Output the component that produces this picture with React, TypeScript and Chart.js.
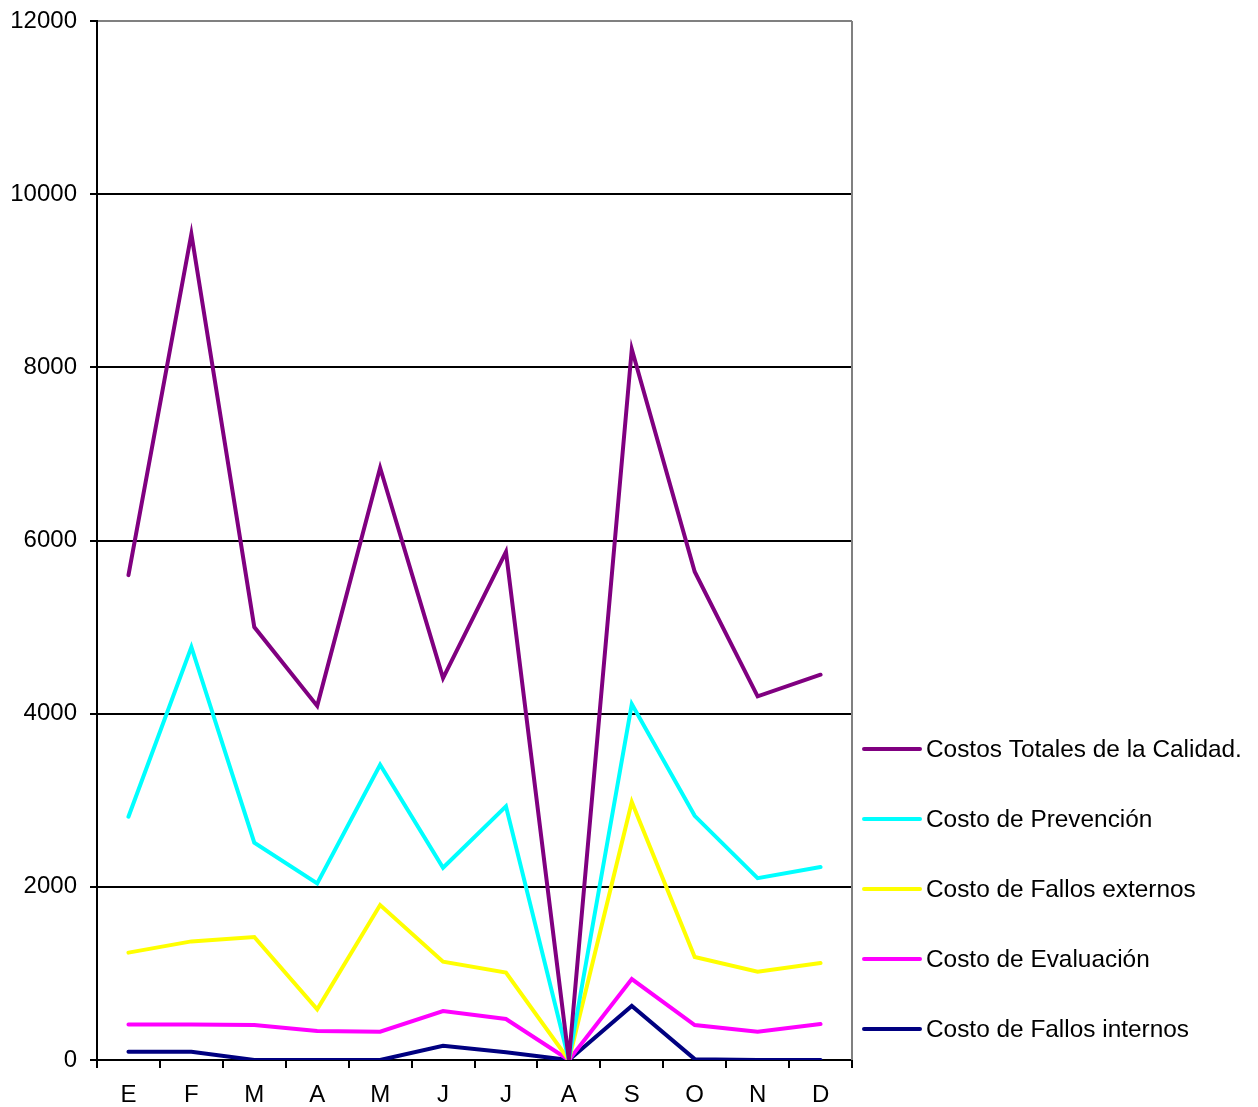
import React, { useEffect, useRef } from "react";
import { Chart, registerables } from "chart.js";

Chart.register(...registerables);

const months = ["E", "F", "M", "A", "M", "J", "J", "A", "S", "O", "N", "D"];
const yTicks = [0, 2000, 4000, 6000, 8000, 10000, 12000];

const totales = [5600, 9540, 5000, 4090, 6840, 4410, 5870, 0, 8210, 5640, 4200, 4450];
const prevencion = [2810, 4770, 2510, 2040, 3410, 2220, 2930, 0, 4110, 2820, 2100, 2230];
const fallosExternos = [1240, 1370, 1420, 585, 1790, 1135, 1010, 0, 2980, 1190, 1020, 1120];
const evaluacion = [410, 410, 405, 335, 327, 566, 474, 0, 935, 404, 327, 416];
const fallosInternos = [96, 96, 0, 0, 0, 165, 89, 0, 624, 10, 0, 0];

const seriesLabels = [
  "Costos Totales de la Calidad.",
  "Costo de Prevención",
  "Costo de Fallos externos",
  "Costo de Evaluación",
  "Costo de Fallos internos",
];
const seriesColors = ["#800080", "#00FFFF", "#FFFF00", "#FF00FF", "#000080"];

const FONT = "'Liberation Sans', Arial, sans-serif";

const legendPlugin = {
  id: "customLegend",
  afterDraw(chart: any) {
    const { ctx, chartArea } = chart;
    ctx.save();
    ctx.strokeStyle = "#808080";
    ctx.lineWidth = 2;
    ctx.beginPath();
    ctx.moveTo(chartArea.right, chartArea.top);
    ctx.lineTo(chartArea.right, chartArea.bottom);
    ctx.stroke();

    ctx.font = `24.4px ${FONT}`;
    ctx.textBaseline = "middle";
    ctx.textAlign = "left";
    chart.data.datasets.forEach((ds: any, i: number) => {
      const y = 749 + i * 70;
      ctx.strokeStyle = ds.borderColor;
      ctx.lineWidth = 4;
      ctx.lineCap = "round";
      ctx.beginPath();
      ctx.moveTo(chartArea.right + 12, y);
      ctx.lineTo(chartArea.right + 68, y);
      ctx.stroke();
      ctx.fillStyle = "#000";
      ctx.fillText(ds.label, chartArea.right + 74, y + 1);
    });
    ctx.restore();
  },
};

export default function App() {
  const ref = useRef<HTMLCanvasElement | null>(null);

  useEffect(() => {
    document.body.style.margin = "0";
    const values = [totales, prevencion, fallosExternos, evaluacion, fallosInternos];
    const chart = new Chart(ref.current as HTMLCanvasElement, {
      type: "line",
      data: {
        labels: months,
        datasets: values.map((v, i) => ({
          label: seriesLabels[i],
          data: v,
          borderColor: seriesColors[i],
          backgroundColor: seriesColors[i],
          borderWidth: 4,
          pointRadius: 0,
          tension: 0,
          fill: false,
          borderCapStyle: "round" as const,
          borderJoinStyle: "miter" as const,
        })),
      },
      options: {
        responsive: false,
        animation: false,
        layout: { padding: { top: 21, right: 406, left: 0, bottom: 0 } },
        plugins: {
          legend: { display: false },
          tooltip: { enabled: false },
        },
        scales: {
          x: {
            offset: true,
            grid: {
              offset: true,
              drawOnChartArea: false,
              drawTicks: true,
              tickLength: 8,
              color: "#000",
              lineWidth: 2,
            },
            border: { color: "#000", width: 2 },
            ticks: {
              color: "#000",
              font: { family: FONT, size: 24 },
              padding: 13,
              maxRotation: 0,
              autoSkip: false,
            },
            afterFit(scale: any) {
              scale.height = 47;
              scale.paddingLeft = 0;
              scale.paddingRight = 0;
            },
          },
          y: {
            min: 0,
            max: 12000,
            afterBuildTicks(scale: any) {
              scale.ticks = yTicks.map((v) => ({ value: v }));
            },
            grid: {
              color: (c: any) => (c.tick && c.tick.value === 12000 ? "#808080" : "#000"),
              tickColor: "#000",
              lineWidth: 2,
              tickLength: 7,
            },
            border: { color: "#000", width: 2 },
            ticks: {
              color: "#000",
              font: { family: FONT, size: 24 },
              padding: 13,
              callback: (v: any) => String(v),
            },
            afterFit(scale: any) {
              scale.width = 97;
              scale.paddingTop = 0;
              scale.paddingBottom = 0;
            },
          },
        },
      },
      plugins: [legendPlugin],
    });
    return () => chart.destroy();
  }, []);

  return <canvas ref={ref} width={1258} height={1107} style={{ display: "block" }} />;
}
